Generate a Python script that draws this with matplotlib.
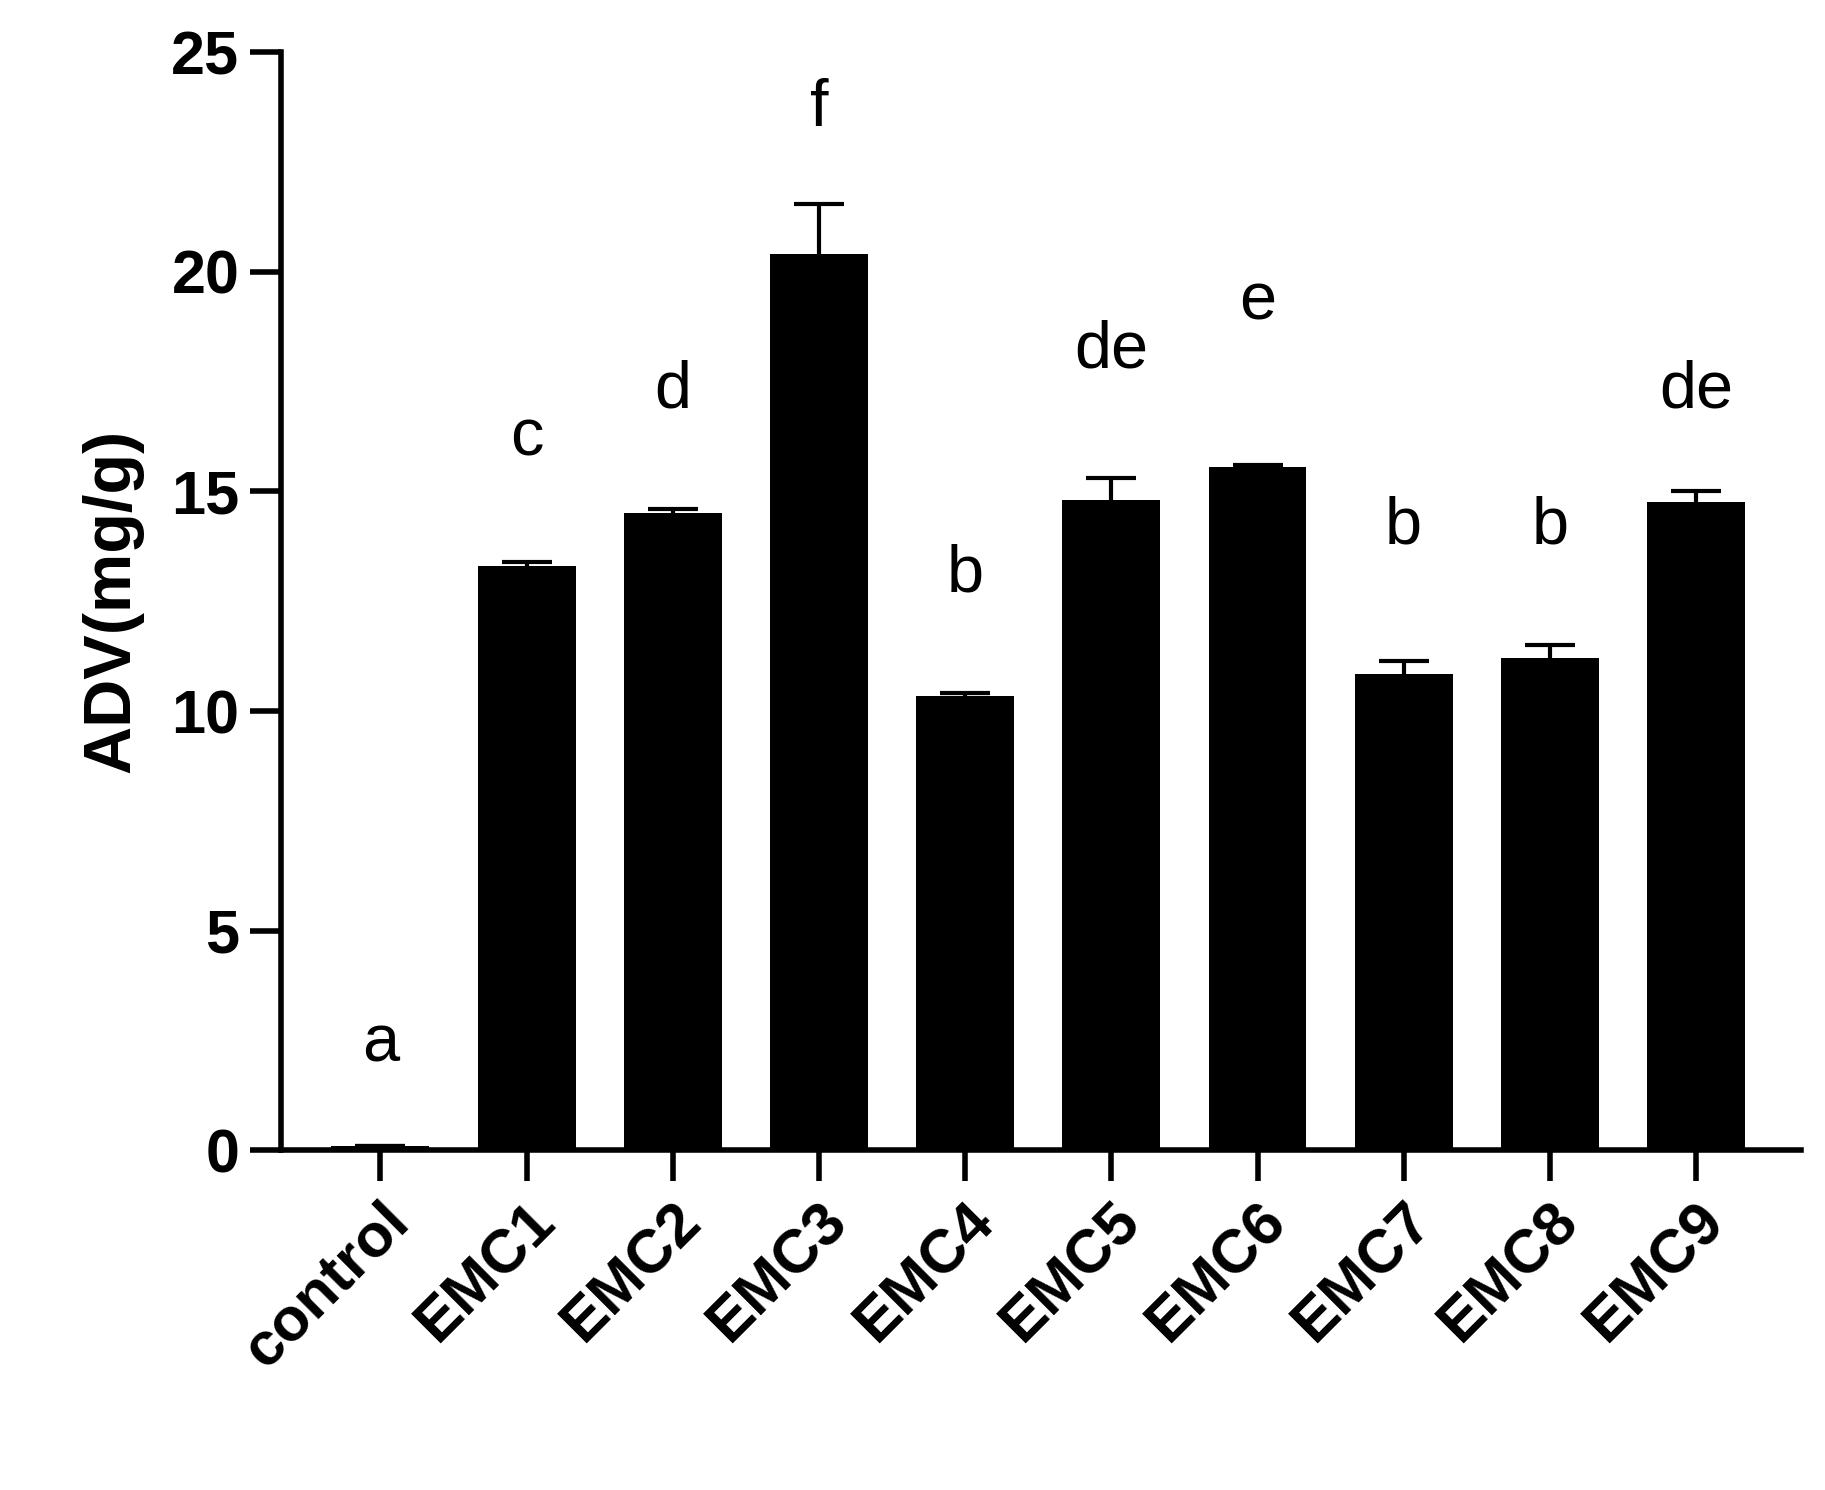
import matplotlib
matplotlib.use("Agg")
import matplotlib.pyplot as plt

categories = ["control","EMC1","EMC2","EMC3","EMC4","EMC5","EMC6","EMC7","EMC8","EMC9"]
values = [0.1,13.3,14.5,20.4,10.35,14.8,15.55,10.85,11.2,14.75]
errors = [0.0,0.1,0.1,1.15,0.05,0.5,0.05,0.3,0.3,0.25]
letters = ["a","c","d","f","b","de","e","b","b","de"]
letter_y = [2.4,16.2,17.3,23.7,13.1,18.2,19.3,14.2,14.2,17.3]
yticks = [0,5,10,15,20,25]

plt.rcParams['font.family'] = ['Liberation Sans','DejaVu Sans']
fig = plt.figure(figsize=(18.25,14.9), dpi=100)
ax = fig.add_axes([0.154,0.228,0.833,0.737])
x = list(range(len(categories)))
ax.bar(x, values, width=0.67, color='black', zorder=3)
ax.errorbar(x, values, yerr=errors, fmt='none', ecolor='black',
            elinewidth=3, capsize=18, capthick=3, zorder=2)
for xi, l, ly in zip(x, letters, letter_y):
    ax.text(xi, ly, l, ha='center', va='center', fontsize=48)
ax.set_xlim(-0.68, 9.72)
ax.set_ylim(0, 25)
ax.set_yticks(yticks)
ax.set_xticks(x)
ax.set_xticklabels(categories, rotation=45, ha='right', rotation_mode='anchor', fontsize=44, fontweight='bold')
for t in ax.get_yticklabels():
    t.set_fontsize(44); t.set_fontweight('bold')
ax.set_ylabel("ADV(mg/g)", fontsize=48, fontweight='bold', labelpad=20)
for s in ['top','right']:
    ax.spines[s].set_visible(False)
for s in ['left','bottom']:
    ax.spines[s].set_linewidth(4)
ax.tick_params(axis='both', width=4, length=22, pad=8)
fig.savefig("out.png", dpi=100)
